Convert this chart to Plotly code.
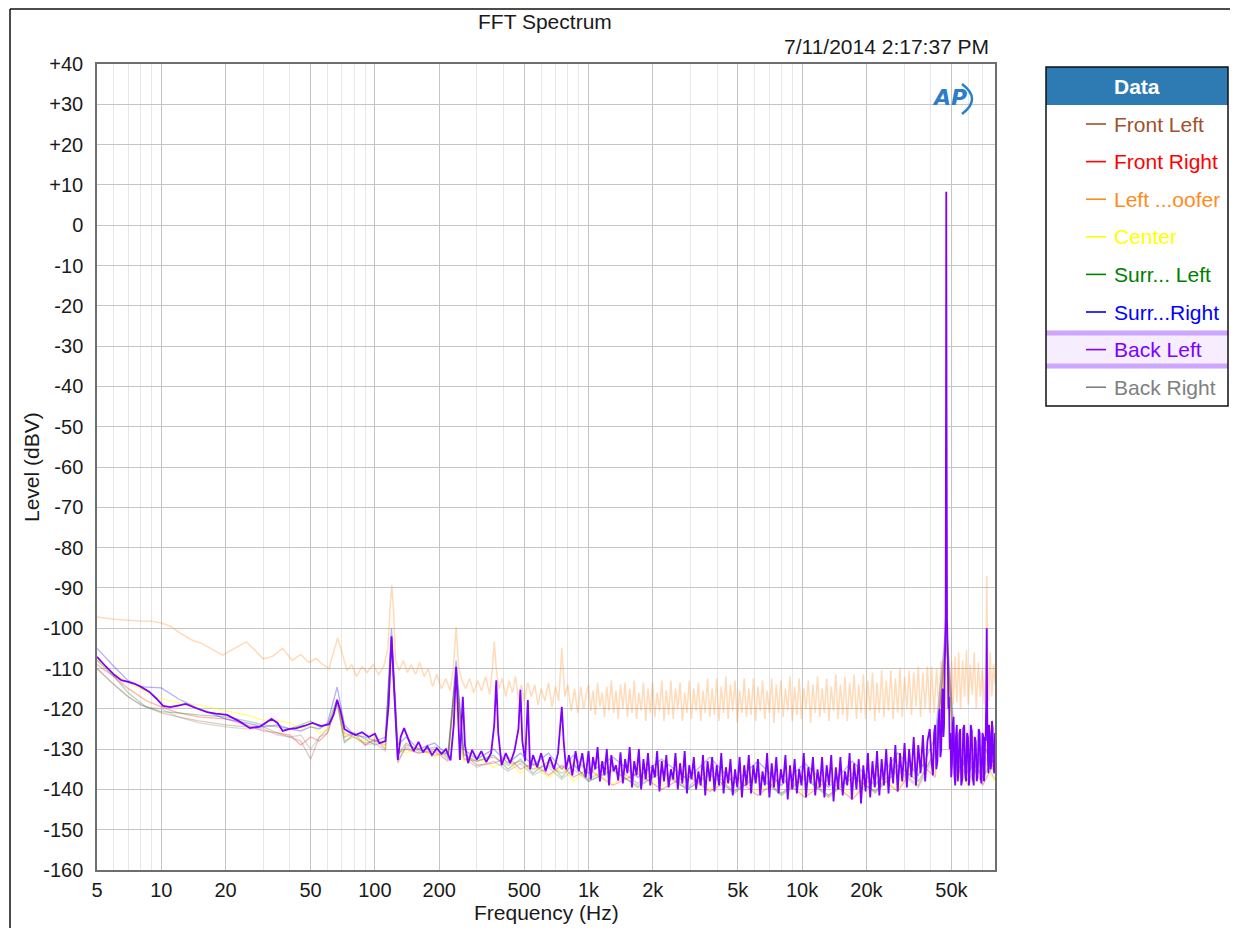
import numpy as np
import plotly.graph_objects as go

SERIES_NAMES = ["Front Left", "Front Right", "Left ...oofer", "Center",
                "Surr... Left", "Surr...Right", "Back Left", "Back Right"]
SERIES_COLORS = ["#A0522D", "#FF0000", "#FF8C1A", "#FFFF00",
                 "#008000", "#0000FF", "#8000FF", "#808080"]

# coarse grid shared by the faded channels
FADED_HZ = [5, 6, 7, 8, 8.5, 10, 12, 15, 20, 25,
            30, 35, 40, 45, 50, 55, 60, 66.6, 72, 80,
            90, 100, 112, 119.6, 128, 140, 160, 190, 220, 240,
            260, 300, 360, 420, 480, 550, 650, 750, 850, 1000,
            1300, 1700, 2200, 2900, 3700, 4800, 6200, 8000, 10300, 13300,
            17200, 22000, 28000, 35000, 42000, 47300, 52000, 60000, 70000, 80000]

FRONT_LEFT_DB = [-110, -114, -117, -119, -119.5, -121, -122, -123, -124, -124.5,
                 -124.5, -126, -127, -128, -132.5, -127, -125, -118, -126, -127,
                 -128.5, -128, -129, -103, -133.5, -129, -130, -131.5, -131, -111,
                 -132.5, -133, -132, -134, -133, -135, -134, -136, -134, -137.5,
                 -134, -138.5, -135, -139.5, -135, -140.5, -136, -141, -136.5, -141.5,
                 -136, -141, -135, -139, -130, -104, -131, -138, -131, -136]
FRONT_RIGHT_DB = [-109, -112, -115, -117, -118, -119.5, -121, -122, -122.5, -124,
                  -125.5, -126, -126.5, -129, -127, -128, -126, -118.5, -127, -126,
                  -129, -127.5, -130, -102.5, -131, -130, -131, -130.5, -133, -110,
                  -131, -134, -133.5, -132, -135, -133.5, -136.5, -134, -137, -135,
                  -139, -136, -140, -136.5, -140.5, -137, -141.5, -137, -142, -137.5,
                  -142.5, -136, -140.5, -133, -137, -100, -137, -132, -139, -133]
CENTER_DB = [-108, -111, -113.5, -115, -116, -117.5, -118.5, -119, -120.5, -121.5,
             -122.8, -123, -123.5, -125, -124, -126, -125, -118, -126.5, -127,
             -128, -127, -129.5, -102.5, -130, -131, -129.5, -132, -130.5, -110.5,
             -133, -132, -134.5, -133, -136, -134, -137, -134.5, -138, -135,
             -138.5, -135.5, -139, -136, -140, -136.5, -140.5, -137, -141, -137,
             -141.5, -136.5, -140, -132, -136, -103, -134, -139, -133, -138]
SURR_LEFT_DB = [-108, -112, -116, -118.5, -119.5, -120.7, -121, -121.5, -122, -123,
                -124, -124.5, -125, -124, -123, -124.5, -124, -117.5, -128.5, -126,
                -127.5, -129, -128, -102, -131.5, -128.5, -130.5, -129.5, -132, -110,
                -131.5, -133, -131.5, -135, -132.5, -136, -133, -137, -133.5, -138,
                -135, -139.5, -135.5, -140, -136, -141, -136.5, -141.5, -137, -142,
                -137, -140.5, -134, -138, -131, -102, -136, -131, -137, -132]
SURR_RIGHT_DB = [-105, -109.5, -113, -114.5, -114.6, -114.8, -117.5, -120, -122.5, -123.5,
                 -124.5, -124, -125, -125.5, -124.5, -125, -123.5, -114.6, -124, -126.5,
                 -127, -128, -127, -100, -129, -127, -130, -128.5, -131.5, -108,
                 -130, -132.5, -130, -133.5, -131, -134, -131, -135, -131.5, -136,
                 -132, -137, -132.5, -137.5, -132, -138.5, -133, -139, -133.5, -139.5,
                 -133, -139, -131, -136.5, -127, -99, -129, -136, -129, -134]
BACK_RIGHT_DB = [-110, -114, -117, -119, -119.5, -120, -122, -123.5, -124.5, -125,
                 -125, -126.5, -127, -126.5, -130, -127, -126, -119, -128, -127,
                 -129, -128.5, -130.5, -104, -133, -129.5, -131, -130, -132.5, -111.5,
                 -132, -134.5, -133, -135.5, -133.5, -136.5, -134.5, -137.5, -135, -138,
                 -135.5, -139, -136, -140, -136.5, -140.5, -137, -141, -137.5, -141.5,
                 -137, -140.5, -135.5, -139.5, -131.5, -103, -132.5, -139, -132, -137.5]

# dense noise-floor bins, 1 kHz .. 40 kHz (shared by Back Left and the woofer channel)
NOISE_HZ = [1000, 1025, 1050, 1076, 1103, 1131, 1159, 1188, 1218, 1248,
            1279, 1311, 1344, 1378, 1412, 1448, 1484, 1521, 1559, 1598,
            1638, 1679, 1721, 1764, 1808, 1853, 1899, 1947, 1995, 2045,
            2096, 2149, 2203, 2258, 2314, 2372, 2431, 2492, 2554, 2618,
            2684, 2751, 2820, 2890, 2962, 3036, 3112, 3190, 3270, 3352,
            3435, 3521, 3609, 3699, 3792, 3887, 3984, 4083, 4185, 4290,
            4397, 4507, 4620, 4735, 4854, 4975, 5099, 5227, 5357, 5491,
            5629, 5769, 5914, 6062, 6213, 6368, 6528, 6691, 6858, 7029,
            7205, 7385, 7570, 7759, 7953, 8152, 8356, 8565, 8779, 8998,
            9223, 9454, 9690, 9933, 10181, 10435, 10696, 10964, 11238, 11519,
            11807, 12102, 12405, 12715, 13033, 13358, 13692, 14035, 14385, 14745,
            15114, 15492, 15879, 16276, 16683, 17100, 17527, 17965, 18414, 18875,
            19347, 19830, 20326, 20834, 21355, 21889, 22436, 22997, 23572, 24161,
            24766, 25385, 26019, 26670, 27337, 28020, 28721, 29439, 30175, 30929,
            31702, 32495, 33307, 34140, 34994, 35868, 36765, 37684, 38627, 39592]

BACK_LEFT_NOISE_DB = [
    -130.5, -137.5, -132, -135, -129.5, -138, -133, -136.5, -130, -139,
    -131.5, -135.5, -134, -137.8, -130.8, -138.5, -132.5, -136, -129.5, -139.5,
    -133, -136.5, -130, -140, -132.5, -137.5, -131, -139, -134, -137,
    -130.5, -140.5, -133, -138, -131.5, -139.5, -135, -137.5, -131, -140,
    -133.5, -138.5, -130.5, -141, -134, -137.5, -132, -140, -135.5, -139,
    -131.5, -141.5, -133, -138, -132, -140.5, -134, -139, -131, -141,
    -134.5, -138.5, -132.5, -141.5, -135, -139.5, -132, -142, -134, -139,
    -131.5, -141, -134, -138.5, -132.5, -141.5, -135.5, -139, -131, -142,
    -133.5, -139.5, -132, -141, -135, -138.5, -131.5, -142.5, -134, -140,
    -132.5, -141, -135, -139, -131, -142, -134.5, -138.5, -132, -141.5,
    -135, -139.5, -132, -142, -134, -139, -131.5, -143, -134.5, -140,
    -132, -141.5, -135.5, -139, -131, -142.5, -133.5, -140, -132.5, -143.5,
    -134, -140.5, -131, -142, -133, -139.5, -130.5, -141.5, -132.5, -139,
    -130, -141, -132, -138.5, -129, -140.5, -131, -138, -128.5, -139.5,
    -130, -137, -127, -139, -129, -136, -126.5, -138, -128, -125]

WOOFER_NOISE_DB = [
    -114, -120.5, -115.5, -121.5, -113.5, -119.5, -116, -122, -114.5, -120.5,
    -113, -121, -115.5, -122.5, -114, -120, -113.5, -122, -115, -121,
    -113, -122.5, -116, -120.5, -113.5, -123, -115, -121, -113.5, -122,
    -116, -120.5, -113, -123, -115.5, -121.5, -113, -122.5, -115, -120,
    -113.5, -123, -116, -121, -113, -122.5, -115, -120.5, -113.5, -123,
    -115.5, -121, -112.5, -122, -115, -121.5, -112.5, -123, -114.5, -121,
    -112, -122.5, -114, -120.5, -113, -123.5, -115.5, -121, -112.5, -122,
    -115, -121.5, -112.5, -123, -114.5, -120.5, -113, -122.5, -115.5, -121,
    -112.5, -123.5, -114, -121, -113, -122, -115, -120.5, -112, -123,
    -114.5, -121.5, -112.5, -122.5, -115, -120, -113, -123.5, -114, -121,
    -112, -122, -115, -121, -112.5, -123, -114.5, -120.5, -111.5, -122.5,
    -114, -121.5, -112, -123, -113.5, -120, -111.5, -122.5, -114, -121,
    -111.5, -122.5, -113, -120.5, -111, -123, -113.5, -121, -110.5, -122,
    -113, -120.5, -110.5, -122.5, -112.5, -121, -110, -122, -112, -120,
    -110.5, -121.5, -111, -119.5, -109.5, -122, -111, -120, -109.5, -121]

# (Hz, dBV) pairs below 1 kHz and above 40 kHz
WOOFER_LOW = [
    (5, -97.2), (6, -97.8), (7, -98), (8, -98.2), (9, -98.3), (10, -98.7), (11, -99.5),
    (12.5, -101.5), (14, -103), (15.2, -103.6), (17, -105), (19.4, -106.7), (22, -105),
    (25, -103.4), (27.5, -105.5), (30, -107.6), (33.2, -107), (37, -105), (41, -108),
    (45, -106.5), (49, -108.5), (53, -107.5), (57, -109), (61, -110), (64, -106),
    (67, -102.4), (70, -106), (74, -110.5), (78, -109), (82, -112), (87, -109.5),
    (92, -111), (98, -109), (104, -111.5), (110, -109.5), (115, -105), (118, -94),
    (120, -89.3), (122, -95), (125, -108), (130, -110.5), (136, -108), (142, -111),
    (148, -109), (155, -111.5), (162, -108.5), (170, -112), (178, -110), (186, -114.5),
    (195, -111.5), (205, -115), (215, -112.5), (225, -115.5), (233, -110), (240, -99.7),
    (247, -110), (256, -113), (266, -115), (278, -112.5), (290, -116), (303, -113),
    (316, -115.5), (330, -112), (345, -116.5), (355, -110), (362, -103.4), (370, -110),
    (380, -115), (395, -112.5), (410, -117), (425, -113), (440, -116), (455, -112),
    (470, -117.5), (485, -114), (500, -118), (520, -113.5), (540, -117), (560, -114),
    (580, -119), (600, -115), (625, -118), (650, -113.5), (675, -119.5), (700, -114.5),
    (725, -118), (750, -105), (775, -117), (800, -114), (830, -120.5), (860, -115),
    (890, -121), (920, -114.5), (950, -120), (980, -116),
]
WOOFER_HIGH = [
    (40425, -109.5), (41500, -121), (42600, -110), (43700, -120), (44700, -108),
    (45600, -118), (46300, -104), (46800, -100), (47100, -97), (47300, -97),
    (47600, -99), (48000, -104), (48600, -112), (49300, -118), (50100, -108),
    (51000, -119), (52000, -107), (53000, -118.5), (54100, -106), (55200, -120),
    (56400, -108), (57600, -117), (58800, -105.5), (60000, -119), (61300, -109),
    (62600, -116.5), (64000, -106), (65400, -120), (66800, -108.5), (68300, -117),
    (69800, -110), (71300, -119), (72500, -110), (73200, -87), (73900, -108),
    (74800, -118), (76000, -106), (77300, -117), (78700, -109), (80000, -114),
]

BACK_LEFT_LOW = [
    (5, -107.1), (5.5, -109.5), (6, -111.5), (6.5, -112.9), (7, -113.3), (7.5, -113.8),
    (8, -114.5), (8.8, -115.8), (9.5, -117.5), (10.2, -119.3), (11, -119.6), (12, -119.2),
    (13, -118.8), (14.5, -119.8), (16.4, -120.8), (18, -121.2), (20.3, -121.5), (23, -123),
    (26, -124.8), (29, -124.4), (32.8, -122.5), (35, -123.5), (37, -125.5), (40, -125),
    (43, -124.8), (47, -124.2), (51, -123.5), (56, -124.3), (61, -123.8), (64, -121.5),
    (66.6, -117.8), (69, -120.5), (72, -125), (76, -125.8), (81, -126.5), (87, -125.8),
    (93.7, -127), (100, -126.2), (105, -128.5), (112, -128), (116, -119), (119.6, -102),
    (123, -115), (128, -132.7), (132, -127), (137, -124.8), (145.8, -128.5), (152, -130.5),
    (160, -128.2), (168, -130.8), (176, -129.3), (185, -131.5), (195, -129.8), (205, -131.2),
    (215, -130), (226, -132.8), (234, -124), (240, -109.6), (245, -121), (250, -132.7),
    (258, -117), (264, -129), (273, -133.5), (285, -130.2), (300, -132.6), (315, -130.5),
    (332, -133.2), (350, -131), (362, -124), (370, -112.9), (378, -126), (392, -134),
    (410, -131), (430, -133.5), (450, -130.5), (470, -125), (480, -115.3), (490, -128),
    (505, -133), (520, -117.8), (533, -135), (550, -131.5), (575, -134.5), (600, -131),
    (630, -135.5), (660, -132), (690, -135), (720, -131), (750, -119.5), (765, -128),
    (785, -135), (810, -131.5), (840, -136.5), (870, -130.5), (900, -135.5), (935, -131),
    (970, -137),
]
BACK_LEFT_HIGH = [
    (40500, -134), (41000, -136.5), (41500, -126), (42000, -124), (42500, -135),
    (43000, -133), (43500, -123), (44000, -120), (44400, -132), (44800, -130),
    (45200, -118), (45500, -115), (45900, -127), (46200, -124), (46500, -110),
    (46700, -106), (47000, -97), (47200, -40), (47300, 8.3), (47450, -45),
    (47700, -98), (48100, -107), (48400, -120), (48700, -117), (49100, -130),
    (49500, -126), (49900, -137), (50300, -134), (50700, -124), (51200, -122),
    (51600, -136), (52100, -139), (52500, -127), (53000, -124), (53500, -138),
    (54000, -136), (54500, -126), (55000, -125), (55600, -139), (56200, -137.5),
    (56800, -125), (57400, -124), (58000, -136), (58600, -138), (59200, -126),
    (59800, -127), (60400, -139), (61000, -135), (61600, -124), (62300, -125.5),
    (62900, -137), (63600, -139), (64300, -127), (65000, -128), (65700, -138),
    (66400, -136), (67100, -125), (67800, -126), (68500, -137), (69200, -138.5),
    (69900, -126), (70600, -127), (71000, -138), (71500, -136), (71900, -127),
    (72300, -128), (72800, -118), (73200, -100), (73600, -122), (74000, -131),
    (74500, -136), (75000, -124), (75600, -126), (76200, -135), (76800, -134),
    (77400, -123), (78000, -125), (78600, -133), (79300, -136), (80000, -126),
]

X_TICKS = [5, 10, 20, 50, 100, 200, 500, 1000, 2000, 5000, 10000, 20000, 50000]
X_TICK_TEXT = ["5", "10", "20", "50", "100", "200", "500",
               "1k", "2k", "5k", "10k", "20k", "50k"]
Y_TICKS = list(range(40, -161, -10))
Y_TICK_TEXT = ["+40", "+30", "+20", "+10", "0", "-10", "-20", "-30", "-40", "-50",
               "-60", "-70", "-80", "-90", "-100", "-110", "-120", "-130", "-140",
               "-150", "-160"]

# ── page geometry (page pixels; the page body adds an 8px offset) ─────────────

FONT = "Liberation Sans, Arial, sans-serif"
OFF = 8
W, H = 1238 - OFF, 928 - OFF
L, R, T, B = 97, 995, 64, 870


def px(x):
    return (x - L) / (R - L)


def py(y):
    return (B - y) / (B - T)


fig = go.Figure()

faded = [
    (0, FRONT_LEFT_DB), (1, FRONT_RIGHT_DB), (3, CENTER_DB),
    (4, SURR_LEFT_DB), (5, SURR_RIGHT_DB), (7, BACK_RIGHT_DB),
]
for i, vals in faded:
    fig.add_trace(go.Scatter(
        x=FADED_HZ, y=vals, mode="lines", name=SERIES_NAMES[i],
        line=dict(color=SERIES_COLORS[i], width=1.3, simplify=False),
        opacity=0.3 if i != 3 else 0.5,
    ))

lo_hz, lo_db = zip(*WOOFER_LOW)
hi_hz, hi_db = zip(*WOOFER_HIGH)
fig.add_trace(go.Scatter(
    x=list(lo_hz) + NOISE_HZ + list(hi_hz),
    y=list(lo_db) + WOOFER_NOISE_DB + list(hi_db),
    mode="lines", name=SERIES_NAMES[2],
    line=dict(color=SERIES_COLORS[2], width=1.5, simplify=False),
    opacity=0.3,
))

lo_hz, lo_db = zip(*BACK_LEFT_LOW)
hi_hz, hi_db = zip(*BACK_LEFT_HIGH)
fig.add_trace(go.Scatter(
    x=list(lo_hz) + NOISE_HZ + list(hi_hz),
    y=list(lo_db) + BACK_LEFT_NOISE_DB + list(hi_db),
    mode="lines", name=SERIES_NAMES[6],
    line=dict(color=SERIES_COLORS[6], width=1.8, simplify=False),
))

# minor grid on the log axis
minor_x = [m * d for d in (1, 10, 100, 1000, 10000) for m in (3, 4, 6, 7, 8, 9)]
minor_x = [v for v in minor_x if 5 < v < 80000 and v not in X_TICKS]

fig.update_layout(
    width=W, height=H,
    margin=dict(l=L - OFF, r=W - (R - OFF), t=T - OFF, b=H - (B - OFF)),
    paper_bgcolor="white", plot_bgcolor="white",
    font=dict(family=FONT, size=20, color="#1a1a1a"),
    showlegend=False,
    xaxis=dict(
        type="log", range=[np.log10(5), np.log10(80000)],
        tickvals=X_TICKS, ticktext=X_TICK_TEXT, ticks="",
        ticklabelstandoff=1,
        showgrid=True, gridcolor="#C4C4C4", gridwidth=1,
        minor=dict(tickvals=minor_x, showgrid=True, gridcolor="#E6E6E6", ticks=""),
        showline=True, linecolor="#6E6E6E", linewidth=1.5, mirror=True,
        zeroline=False,
    ),
    yaxis=dict(
        range=[-160, 40], tickvals=Y_TICKS, ticktext=Y_TICK_TEXT, ticks="",
        ticklabelstandoff=8,
        showgrid=True, gridcolor="#C4C4C4", gridwidth=1,
        showline=True, linecolor="#6E6E6E", linewidth=1.5, mirror=True,
        zeroline=False,
    ),
)

ann = []
shapes = []


def text(s, x, y, anchor="center", size=21, color="#1a1a1a", **kw):
    ann.append(dict(text=s, xref="paper", yref="paper", x=px(x), y=py(y),
                    xanchor=anchor, yanchor="middle", showarrow=False,
                    font=dict(size=size, color=color, **kw.pop("font", {})), **kw))


def rect(x0, y0, x1, y1, **kw):
    shapes.append(dict(type="rect", xref="paper", yref="paper",
                       x0=px(x0), x1=px(x1), y0=py(y0), y1=py(y1), **kw))


def seg(x0, y0, x1, y1, color, width):
    shapes.append(dict(type="line", xref="paper", yref="paper",
                       x0=px(x0), x1=px(x1), y0=py(y0), y1=py(y1),
                       line=dict(color=color, width=width)))


# window chrome
seg(10, 9, 1238, 9, "#111", 1.5)
seg(10, 9, 10, 928, "#111", 1.5)

# titles
text("FFT Spectrum", 545, 21)
text("7/11/2014 2:17:37 PM", 991, 47, anchor="right")
text("Frequency (Hz)", 546, 912)
text("Level (dBV)", 31, 467, textangle=-90)

# AP logo
text("<b><i>AP</i></b>", 949, 97, size=22, color="#2B7CC9",
     font=dict(family="DejaVu Sans"))
shapes.append(dict(type="path", xref="paper", yref="paper",
                   path=f"M {px(962)},{py(84)} Q {px(982)},{py(99)} {px(962)},{py(114)}",
                   line=dict(color="#2B7CC9", width=2.5)))

# legend panel (the visible page ends a few pixels short of 1238)
LG_L, LG_R, LG_T, LG_B, HDR_B = 1046, 1228, 67, 406, 105
rect(LG_L, LG_T, LG_R, HDR_B, fillcolor="#2E7BB4", line=dict(width=0))
row_y = [124 + 37.6 * k for k in range(len(SERIES_NAMES))]
hy = row_y[6]
rect(LG_L, hy - 19, LG_R, hy + 19, fillcolor="#F6EEFF", line=dict(width=0))
rect(LG_L, hy - 19, LG_R, hy - 14, fillcolor="#CDA6FF", line=dict(width=0))
rect(LG_L, hy + 14, LG_R, hy + 19, fillcolor="#CDA6FF", line=dict(width=0))
rect(LG_L, LG_T, LG_R, LG_B, line=dict(color="#111", width=1.5))
text("<b>Data</b>", (LG_L + LG_R) / 2, 86, size=21, color="white")
for name, color, y in zip(SERIES_NAMES, SERIES_COLORS, row_y):
    seg(1086, y, 1106, y, color, 1.6)
    text(name, 1112, y, anchor="left", size=21, color=color)

fig.update_layout(annotations=ann, shapes=shapes)

fig.write_html("out.html")
